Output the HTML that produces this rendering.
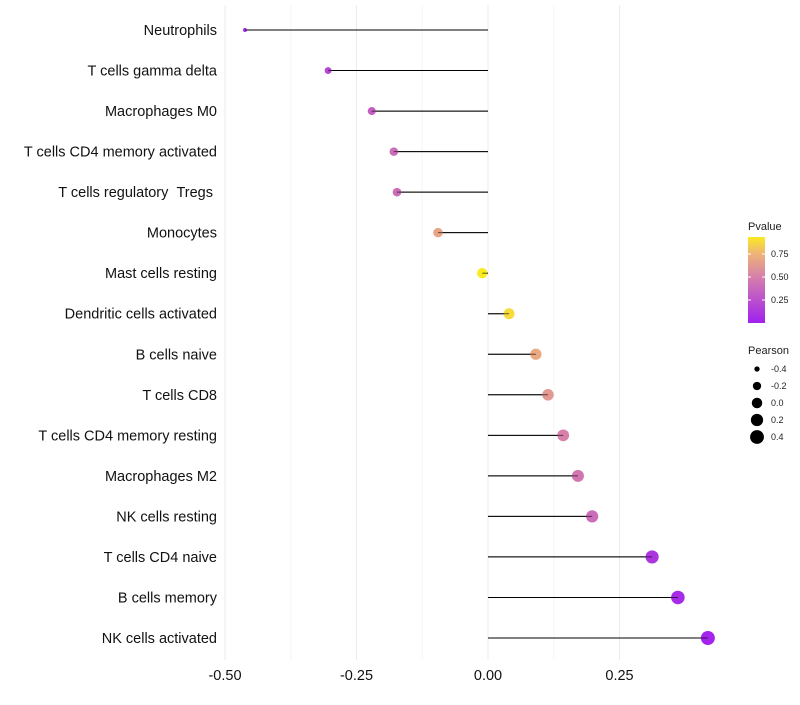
<!DOCTYPE html>
<html><head><meta charset="utf-8"><style>
body{margin:0;background:#fff;font-family:"Liberation Sans",sans-serif}
svg text{font-family:"Liberation Sans",sans-serif}
</style></head><body>
<svg id="c" width="800" height="700"></svg>
<script>
const categories=["Neutrophils","T cells gamma delta","Macrophages M0","T cells CD4 memory activated","T cells regulatory\u00a0\u00a0Tregs\u00a0","Monocytes","Mast cells resting","Dendritic cells activated","B cells naive","T cells CD8","T cells CD4 memory resting","Macrophages M2","NK cells resting","T cells CD4 naive","B cells memory","NK cells activated"];
const pearson=[-0.462,-0.304,-0.221,-0.179,-0.173,-0.095,-0.011,0.040,0.091,0.114,0.143,0.171,0.198,0.312,0.361,0.418];
const pvalues=[0.05,0.2,0.33,0.4,0.4,0.68,0.93,0.88,0.7,0.62,0.5,0.45,0.4,0.12,0.06,0.02];
const xTicks=[-0.5,-0.25,0,0.25];
const xTickLabels=["-0.50","-0.25","0.00","0.25"];
const cbTicks=[0.25,0.5,0.75];
const sizeTicks=[-0.4,-0.2,0.0,0.2,0.4];
const sizeLabels=["-0.4","-0.2","0.0","0.2","0.4"];
const NS="http://www.w3.org/2000/svg";
const svg=document.getElementById('c');
const x=v=>488+v*526;
const y=i=>30+i*(608/15);
const r=v=>Math.sqrt(Math.max(2.5,4+51*(v+0.46)));
function col(p){
  const stops=[[0,[160,32,240]],[0.5,[214,128,170]],[0.75,[238,180,120]],[1,[255,255,0]]];
  for(let i=1;i<stops.length;i++){if(p<=stops[i][0]){const a=stops[i-1],b=stops[i],t=(p-a[0])/(b[0]-a[0]);
    return 'rgb('+a[1].map((c,k)=>Math.round(c+(b[1][k]-c)*t)).join(',')+')';}}
  return 'rgb(255,255,0)';
}
function el(t,a,parent){const e=document.createElementNS(NS,t);for(const k in a)e.setAttribute(k,a[k]);(parent||svg).appendChild(e);return e;}
xTicks.forEach((t,i)=>{
  const g=el('line',{x1:x(t),x2:x(t),y1:5,y2:660,stroke:'#ebebeb','stroke-width':1});
  
  
  if(i<xTicks.length-1){const m=el('line',{x1:x(t+0.125),x2:x(t+0.125),y1:5,y2:660,stroke:'#f5f5f5','stroke-width':1});
    
    }
  const tx=el('text',{x:x(t),y:680,'text-anchor':'middle','font-size':14.5,fill:'#111'});
  tx.textContent=xTickLabels[i];
  
  
});
categories.forEach((c,i)=>{
  const tx=el('text',{x:217,y:y(i)+5,'text-anchor':'end','font-size':14.5,fill:'#111'});
  tx.textContent=c;
  
  
  const ln=el('line',{x1:x(0),x2:x(pearson[i]),y1:y(i),y2:y(i),stroke:'#000','stroke-width':1});
  
  
  const pt=el('circle',{cx:x(pearson[i]),cy:y(i),r:r(pearson[i]),fill:col(pvalues[i])});
  
  
  const ln2=el('line',{x1:x(0),x2:x(pearson[i]),y1:y(i),y2:y(i),stroke:'#000','stroke-width':1,opacity:0.6});
  
  
});
const lt=el('text',{x:748,y:230,'font-size':11,fill:'#222'});lt.textContent='Pvalue';


const defs=el('defs',{});
const gr=el('linearGradient',{id:'g',x1:0,y1:1,x2:0,y2:0},defs);
[0,0.25,0.5,0.75,0.93].forEach(p=>el('stop',{offset:(p/0.93),'stop-color':col(p)},gr));
const cb=el('rect',{x:748,y:237,width:17,height:86,fill:'url(#g)'});


const cy=p=>323-p*92;
cbTicks.forEach(t=>{
  el('line',{x1:748,x2:751,y1:cy(t),y2:cy(t),stroke:'#fff'});el('line',{x1:762,x2:765,y1:cy(t),y2:cy(t),stroke:'#fff'});
  const tx=el('text',{x:771,y:cy(t)+3,'font-size':9,fill:'#222'});tx.textContent=t.toFixed(2);
  
  
});
const st=el('text',{x:748,y:354,'font-size':11,fill:'#222'});st.textContent='Pearson';


sizeTicks.forEach((v,i)=>{
  const yy=369+i*17;
  const c=el('circle',{cx:757,cy:yy,r:r(v),fill:'#000'});
  
  
  const tx=el('text',{x:771,y:yy+3,'font-size':9,fill:'#222'});tx.textContent=sizeLabels[i];
  
  
});
</script>
</body></html>
